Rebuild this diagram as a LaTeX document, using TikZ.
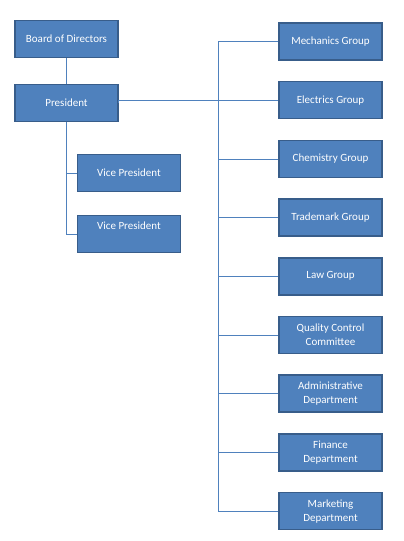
\documentclass[tikz,border=0pt]{standalone}
\usepackage{fontspec}
\setmainfont{Carlito}
\usetikzlibrary{positioning}
\definecolor{boxfill}{HTML}{4F81BD}
\definecolor{boxline}{HTML}{385D8A}

\begin{document}
\begin{tikzpicture}[x=1pt, y=-1pt, node distance={20.2pt},
    unit/.style = {draw=boxline, line width=1.5pt, fill=boxfill, text=white,
        minimum width=103pt, minimum height=37pt, inner sep=1pt,
        align=center, font=\fontsize{11}{14}\selectfont},
    link/.style = {draw=boxfill, line width=0.8pt}]
    \useasboundingbox (0,0) rectangle (404,541);

    % left branch
    \node[unit] (board) at (66.5,39) {Board of Directors};
    \node[unit] (pres) at (66.5,103) {President};
    \node[unit] (vpa) at (129,173) {Vice President};
    \node[unit, text depth=17pt] (vpb) at (129,234) {Vice President};

    % right column
    \node[unit] (mech) at (330.5,41.5) {Mechanics Group};
    \node[unit] (elec) [below=of mech] {Electrics Group};
    \node[unit] (chem) [below=of elec] {Chemistry Group};
    \node[unit] (mark) [below=of chem] {Trademark Group};
    \node[unit] (law) [below=of mark] {Law Group};
    \node[unit] (qcc) [below=of law] {Quality Control\\Committee};
    \node[unit] (admin) [below=of qcc] {Administrative\\Department};
    \node[unit] (fin) [below=of admin] {Finance\\Department};
    \node[unit] (mkt) [below=of fin] {Marketing\\Department};
    \coordinate (spine) at (218,0);

    \draw[link] (board) -- (pres);
    \draw[link] (pres.south) -- (pres.south |- vpb.west) -- (vpb.west);
    \draw[link] (pres.south |- vpa.west) -- (vpa.west);
    \draw[link] (pres.east) -- (elec.west -| pres.east) -- (elec.west);

    \draw[link] (mech.west) -- (mech.west -| spine) -- (mkt.west -| spine) -- (mkt.west);
    \foreach \n in {chem, mark, law, qcc, admin, fin}
        \draw[link] (\n.west -| spine) -- (\n.west);
\end{tikzpicture}
\end{document}
